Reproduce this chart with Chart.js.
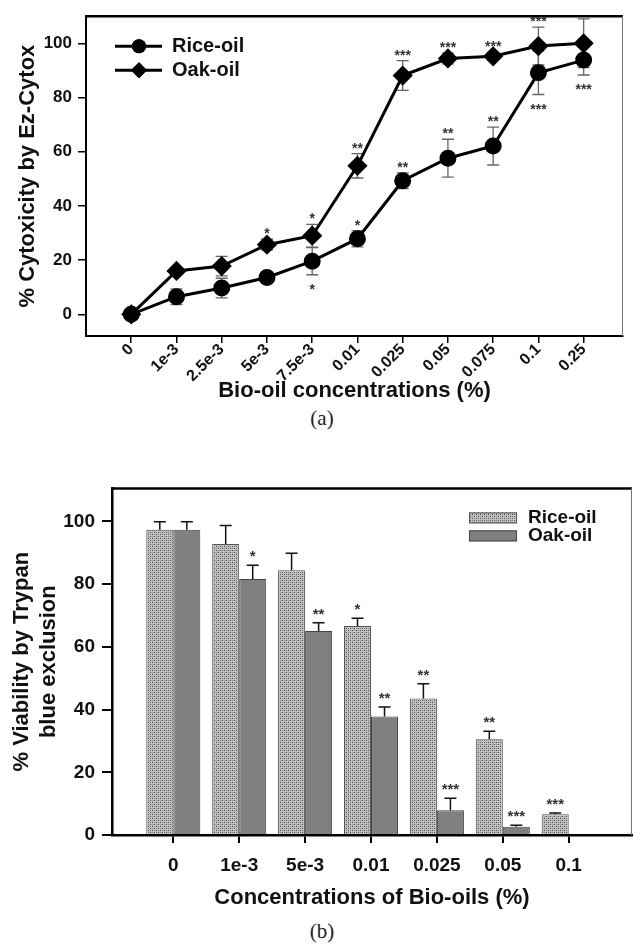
<!DOCTYPE html>
<html>
<head>
<meta charset="utf-8">
<script src="https://cdn.jsdelivr.net/npm/chart.js@4.4.1/dist/chart.umd.min.js"></script>
<style>
  body { margin: 0; background: #fff; width: 634px; height: 946px; position: relative; overflow: hidden; }
  canvas { position: absolute; left: 0; }
  #chartA { top: 0; }
  #chartB { top: 470px; }
  .caption { position: absolute; left: 5px; width: 634px; text-align: center;
             font-family: "Liberation Serif", "DejaVu Serif", serif; font-size: 21px; color: #222; }
</style>
</head>
<body>
<canvas id="chartA" width="634" height="405"></canvas>
<div class="caption" style="top:406px">(a)</div>
<canvas id="chartB" width="634" height="442"></canvas>
<div class="caption" style="top:919px">(b)</div>

<script>
// (a) Ez-Cytox による細胞毒性
const concA = ['0', '1e-3', '2.5e-3', '5e-3', '7.5e-3', '0.01', '0.025', '0.05', '0.075', '0.1', '0.25'];
const riceCyto = [0, 6.5, 9.7, 13.6, 19.6, 27.9, 49.3, 57.6, 62.1, 89.1, 93.8];
const riceCytoErr = [0.8, 2.9, 3.6, 1.5, 5, 3, 2.9, 7, 7, 8, 5.5];
const oakCyto = [0, 16, 17.8, 25.7, 29, 54.8, 88.1, 94.4, 95.2, 99, 100];
const oakCytoErr = [0.8, 1, 3.6, 2, 4.2, 4.5, 5.5, 2, 1.5, 7, 9];
const riceSigA = ['', '', '', '', '*', '*', '**', '**', '**', '***', '***'];
const oakSigA = ['', '', '', '*', '*', '**', '***', '***', '***', '***', ''];
const yTicksA = [0, 20, 40, 60, 80, 100];

// (b) Trypan blue exclusion による生存率
const concB = ['0', '1e-3', '5e-3', '0.01', '0.025', '0.05', '0.1'];
const riceViab = [97.3, 92.8, 84.4, 66.6, 43.5, 30.5, 6.6];
const riceViabErr = [2.6, 5.9, 5.4, 2.5, 4.7, 2.6, 0.4];
const oakViab = [97.3, 81.6, 65, 37.8, 7.9, 2.6, 0];
const oakViabErr = [2.6, 4.4, 2.7, 3, 3.8, 0.5, 0];
const riceSigB = ['', '', '', '*', '**', '**', '***'];
const oakSigB = ['', '*', '**', '**', '***', '***', ''];
const yTicksB = [0, 20, 40, 60, 80, 100];

const FONT = '"Liberation Sans", Arial, Helvetica, sans-serif';
Chart.defaults.font.family = FONT;
Chart.defaults.color = '#111';

// 下側にアスタリスクを置く Rice-oil の点
const riceBelowA = new Set([4, 9, 10]);

// 上の枠線と右の枠線
const frame = {
    id: 'frame',
    afterDraw(chart) {
        const { ctx, chartArea: a } = chart;
        ctx.save();
        ctx.strokeStyle = '#000';
        ctx.lineWidth = 2.5;
        ctx.beginPath();
        ctx.moveTo(a.left - 1, a.top);
        ctx.lineTo(a.right, a.top);
        ctx.stroke();
        ctx.strokeStyle = '#777';
        ctx.lineWidth = 1;
        ctx.beginPath();
        ctx.moveTo(a.right - 0.5, a.top);
        ctx.lineTo(a.right - 0.5, a.bottom);
        ctx.stroke();
        ctx.restore();
    }
};

function drawStars(ctx, x, y, vals, errs, sigs, below, font) {
    ctx.save();
    ctx.font = font;
    ctx.fillStyle = '#333';
    ctx.textAlign = 'center';
    ctx.textBaseline = 'alphabetic';
    sigs.forEach((s, i) => {
        if (!s) return;
        const px = x.getPixelForValue(i);
        if (below && below.has(i)) {
            ctx.fillText(s, px, y.getPixelForValue(vals[i] - errs[i]) + 19);
        } else {
            ctx.fillText(s, px, y.getPixelForValue(vals[i] + errs[i]) - 1);
        }
    });
    ctx.restore();
}

const decorA = {
    id: 'decorA',
    beforeDatasetsDraw(chart) {
        const { ctx, scales: { x, y } } = chart;
        ctx.save();
        ctx.strokeStyle = '#666';
        ctx.lineWidth = 1.3;
        [[riceCyto, riceCytoErr], [oakCyto, oakCytoErr]].forEach(([vals, errs]) => {
            vals.forEach((v, i) => {
                const px = x.getPixelForValue(i);
                const top = y.getPixelForValue(v + errs[i]);
                const bot = y.getPixelForValue(v - errs[i]);
                ctx.beginPath();
                ctx.moveTo(px, top); ctx.lineTo(px, bot);
                ctx.moveTo(px - 6, top); ctx.lineTo(px + 6, top);
                ctx.moveTo(px - 6, bot); ctx.lineTo(px + 6, bot);
                ctx.stroke();
            });
        });
        ctx.restore();
    },
    afterDatasetsDraw(chart) {
        const { ctx, scales: { x, y } } = chart;
        drawStars(ctx, x, y, riceCyto, riceCytoErr, riceSigA, riceBelowA, 'bold 14px ' + FONT);
        drawStars(ctx, x, y, oakCyto, oakCytoErr, oakSigA, null, 'bold 14px ' + FONT);
    },
    afterDraw(chart) {
        // 凡例（線＋マーカー）
        const { ctx, chartArea: a } = chart;
        const items = [['Rice-oil', 'circle', 7], ['Oak-oil', 'rectRot', 8]];
        ctx.save();
        items.forEach(([label, style, r], k) => {
            const cy = a.top + 30 + k * 24;
            const x0 = a.left + 29;
            ctx.strokeStyle = '#000';
            ctx.lineWidth = 3;
            ctx.beginPath();
            ctx.moveTo(x0, cy); ctx.lineTo(x0 + 47, cy);
            ctx.stroke();
            ctx.fillStyle = '#000';
            Chart.helpers.drawPoint(ctx, { pointStyle: style, radius: r, borderWidth: 0 }, x0 + 24, cy);
            ctx.fill();
            ctx.font = 'bold 20px ' + FONT;
            ctx.textBaseline = 'middle';
            ctx.textAlign = 'left';
            ctx.fillStyle = '#111';
            ctx.fillText(label, x0 + 57, cy);
        });
        ctx.restore();
    }
};

new Chart(document.getElementById('chartA'), {
    type: 'line',
    data: {
        datasets: [
            {
                label: 'Rice-oil',
                data: riceCyto.map((v, i) => ({ x: i, y: v })),
                borderColor: '#000',
                backgroundColor: '#000',
                borderWidth: 3,
                pointStyle: 'circle',
                pointRadius: 7,
                tension: 0
            },
            {
                label: 'Oak-oil',
                data: oakCyto.map((v, i) => ({ x: i, y: v })),
                borderColor: '#000',
                backgroundColor: '#000',
                borderWidth: 3,
                pointStyle: 'rectRot',
                pointRadius: 8,
                tension: 0
            }
        ]
    },
    options: {
        responsive: false,
        animation: false,
        devicePixelRatio: 1,
        layout: { padding: { top: 12, right: 3, left: 0, bottom: 0 } },
        plugins: { legend: { display: false }, tooltip: { enabled: false } },
        scales: {
            x: {
                type: 'linear',
                min: -1,
                max: 10.87,
                afterBuildTicks: s => { s.ticks = concA.map((_, i) => ({ value: i })); },
                afterFit: s => { s.height = 69; },
                ticks: {
                    callback: v => concA[v],
                    autoSkip: false,
                    minRotation: 45,
                    maxRotation: 45,
                    padding: -3,
                    font: { size: 16, weight: 'bold' }
                },
                grid: { drawOnChartArea: false, tickLength: 7, color: '#000', lineWidth: 1.5 },
                border: { color: '#000', width: 2 },
                title: {
                    display: true,
                    text: 'Bio-oil concentrations (%)',
                    font: { size: 22, weight: 'bold' },
                    padding: { top: 0, bottom: 1 }
                }
            },
            y: {
                min: -8,
                max: 110,
                afterBuildTicks: s => { s.ticks = yTicksA.map(v => ({ value: v })); },
                afterFit: s => { s.width = 86; },
                ticks: { padding: 6, font: { size: 17, weight: 'bold' } },
                grid: { drawOnChartArea: false, tickLength: 8, color: '#000', lineWidth: 1.5 },
                border: { color: '#000', width: 2 },
                title: {
                    display: true,
                    text: '% Cytoxicity by Ez-Cytox',
                    font: { size: 22, weight: 'bold' },
                    padding: { top: 15, bottom: 0 }
                }
            }
        }
    },
    plugins: [decorA, frame]
});

// Rice-oil の網点パターン
function makeStipple() {
    const c = document.createElement('canvas');
    c.width = 4; c.height = 4;
    const g = c.getContext('2d');
    g.fillStyle = '#c2c2c2';
    g.fillRect(0, 0, 4, 4);
    g.fillStyle = '#454545';
    g.fillRect(0, 0, 1, 1);
    g.fillRect(2, 2, 1, 1);
    g.fillStyle = '#858585';
    g.fillRect(2, 0, 1, 1);
    g.fillRect(0, 2, 1, 1);
    return g.createPattern(c, 'repeat');
}
const stipple = makeStipple();

const decorB = {
    id: 'decorB',
    afterDatasetsDraw(chart) {
        const { ctx, scales: { y } } = chart;
        ctx.save();
        ctx.strokeStyle = '#111';
        ctx.lineWidth = 1.5;
        [0, 1].forEach(d => {
            const meta = chart.getDatasetMeta(d);
            const vals = d === 0 ? riceViab : oakViab;
            const errs = d === 0 ? riceViabErr : oakViabErr;
            meta.data.forEach((bar, i) => {
                if (!vals[i]) return;
                const top = y.getPixelForValue(vals[i]);
                const cap = y.getPixelForValue(vals[i] + errs[i]);
                ctx.beginPath();
                ctx.moveTo(bar.x, top); ctx.lineTo(bar.x, cap);
                ctx.moveTo(bar.x - 6, cap); ctx.lineTo(bar.x + 6, cap);
                ctx.stroke();
            });
        });
        ctx.restore();
        const metaR = chart.getDatasetMeta(0), metaO = chart.getDatasetMeta(1);
        ctx.save();
        ctx.font = 'bold 15px ' + FONT;
        ctx.fillStyle = '#333';
        ctx.textAlign = 'center';
        [[metaR, riceViab, riceViabErr, riceSigB], [metaO, oakViab, oakViabErr, oakSigB]].forEach(([meta, vals, errs, sigs]) => {
            sigs.forEach((s, i) => {
                if (!s) return;
                ctx.fillText(s, meta.data[i].x, y.getPixelForValue(vals[i] + errs[i]) - 4);
            });
        });
        ctx.restore();
    },
    afterDraw(chart) {
        const { ctx, chartArea: a } = chart;
        const items = [['Rice-oil', stipple, '#555'], ['Oak-oil', '#808080', '#444']];
        ctx.save();
        items.forEach(([label, fill, stroke], k) => {
            const top = a.top + 24 + k * 18;
            const x0 = a.left + 357;
            ctx.fillStyle = fill;
            ctx.fillRect(x0, top, 48, 11);
            ctx.strokeStyle = stroke;
            ctx.lineWidth = 1;
            ctx.strokeRect(x0 + 0.5, top + 0.5, 47, 10);
            ctx.font = 'bold 19px ' + FONT;
            ctx.textBaseline = 'middle';
            ctx.textAlign = 'left';
            ctx.fillStyle = '#111';
            ctx.fillText(label, x0 + 59, top + 5);
        });
        ctx.restore();
    }
};

new Chart(document.getElementById('chartB'), {
    type: 'bar',
    data: {
        datasets: [
            {
                label: 'Rice-oil',
                data: riceViab.map((v, i) => ({ x: i, y: v })),
                backgroundColor: stipple,
                borderColor: '#555',
                borderWidth: 1,
                categoryPercentage: 0.82,
                barPercentage: 1
            },
            {
                label: 'Oak-oil',
                data: oakViab.map((v, i) => ({ x: i, y: v })),
                backgroundColor: '#808080',
                borderColor: '#444',
                borderWidth: 1,
                categoryPercentage: 0.82,
                barPercentage: 1
            }
        ]
    },
    options: {
        responsive: false,
        animation: false,
        devicePixelRatio: 1,
        layout: { padding: { top: 15, right: 2, left: 0, bottom: 0 } },
        plugins: { legend: { display: false }, tooltip: { enabled: false } },
        scales: {
            x: {
                type: 'linear',
                offset: false,
                min: -0.93,
                max: 6.96,
                afterBuildTicks: s => { s.ticks = concB.map((_, i) => ({ value: i })); },
                afterFit: s => { s.height = 77; },
                ticks: {
                    callback: v => concB[v],
                    autoSkip: false,
                    minRotation: 0,
                    maxRotation: 0,
                    padding: 11,
                    font: { size: 19, weight: 'bold' }
                },
                grid: { offset: false, drawOnChartArea: false, tickLength: 8, color: '#000', lineWidth: 2 },
                border: { color: '#000', width: 2.5 },
                title: {
                    display: true,
                    text: 'Concentrations of Bio-oils (%)',
                    font: { size: 22, weight: 'bold' },
                    padding: { top: 0, bottom: 1 }
                }
            },
            y: {
                min: 0,
                max: 110.5,
                afterBuildTicks: s => { s.ticks = yTicksB.map(v => ({ value: v })); },
                afterFit: s => { s.width = 112; },
                ticks: { padding: 7, font: { size: 19, weight: 'bold' } },
                grid: { drawOnChartArea: false, tickLength: 10, color: '#000', lineWidth: 2 },
                border: { color: '#000', width: 2.5 },
                title: {
                    display: true,
                    text: ['% Viability by Trypan', 'blue exclusion'],
                    font: { size: 22, weight: 'bold' },
                    padding: { top: 9, bottom: 0 }
                }
            }
        }
    },
    plugins: [decorB, frame]
});
</script>
</body>
</html>
